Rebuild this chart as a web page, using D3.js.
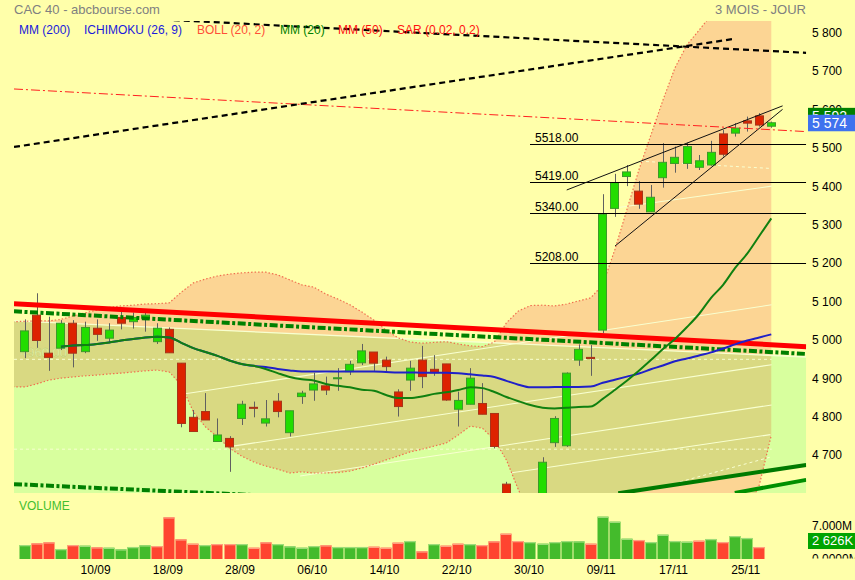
<!DOCTYPE html>
<html><head><meta charset="utf-8">
<script src="https://cdn.jsdelivr.net/npm/d3@7"></script>
<style>body{margin:0;background:#FFFFAA;} svg{display:block;font-family:"Liberation Sans",Arial,sans-serif;}</style>
</head><body><svg id="c" width="855" height="580"></svg>
<script>
// ---------------- DATA ----------------
const dates = ["02/09","03/09","04/09","07/09","08/09","09/09","10/09","11/09","14/09","15/09","16/09","17/09","18/09","21/09","22/09","23/09","24/09","25/09","28/09","29/09","30/09",
"01/10","02/10","05/10","06/10","07/10","08/10","09/10","12/10","13/10","14/10","15/10","16/10","19/10","20/10","21/10","22/10","23/10","26/10","27/10","28/10","29/10","30/10",
"02/11","03/11","04/11","05/11","06/11","09/11","10/11","11/11","12/11","13/11","16/11","17/11","18/11","19/11","20/11","23/11","24/11","25/11","26/11","27/11"];
const open  = [4978,5073,4974,4987,5052,4978,5039,5013,5067,5056,5065,5004,5036,4948,4807,4822,4744,4752,4804,4833,4792,4849,4767,4861,4878,4889,4908,4926,4949,4977,4956,4873,4904,4956,4932,4946,4828,4841,4843,4817,4633,4575,4560,4601,4741,4733,4956,4963,5034,5351,5434,5396,5342,5431,5468,5468,5458,5464,5545,5547,5579,5592,5565];
const high  = [5062,5130,5069,5060,5060,5056,5062,5052,5082,5080,5079,5052,5041,4948,4826,4870,4804,4758,4850,4848,4852,4870,4824,4876,4923,4913,4935,4954,4998,4977,4965,4880,4954,4993,4969,4946,4874,4935,4896,4818,4639,4600,4600,4703,4810,4924,4997,4995,5388,5441,5464,5422,5412,5521,5512,5522,5490,5527,5555,5573,5590,5599,5577];
const low   = [4961,4988,4928,4982,4937,4974,5006,5000,5036,5038,5030,4998,4975,4781,4769,4800,4743,4665,4787,4807,4783,4807,4757,4842,4850,4865,4876,4917,4943,4928,4926,4809,4876,4883,4915,4850,4783,4841,4815,4726,4562,4555,4518,4580,4730,4730,4941,4915,5026,5329,5409,5350,5342,5405,5444,5454,5451,5462,5486,5538,5551,5564,5561];
const close = [5032,5007,4963,5052,4974,5041,5023,5034,5052,5067,5073,5039,4975,4791,4770,4800,4761,4730,4841,4832,4803,4822,4824,4870,4894,4878,4910,4945,4980,4948,4939,4835,4935,4913,4923,4852,4851,4909,4815,4731,4571,4569,4594,4690,4804,4922,4984,4960,5336,5418,5446,5362,5380,5471,5484,5512,5475,5497,5492,5560,5573,5568,5574];
const volume = [3.06,3.43,3.65,2.19,3.06,2.91,2.56,2.47,2.12,2.63,3.00,2.84,9.12,4.31,3.35,3.06,3.28,3.28,3.28,2.47,3.65,3.28,2.78,2.47,2.84,3.00,2.63,2.63,2.63,2.69,2.47,3.57,3.94,1.68,3.28,2.91,3.35,3.28,3.06,3.87,5.54,3.94,3.72,3.35,3.72,3.94,3.87,3.35,9.26,8.16,4.44,4.16,3.72,5.32,3.94,3.79,4.00,4.38,3.72,5.03,4.60,2.626];
const lineStart = 3; // first index of the moving-average lines
const mm20 = [4991,4994,4995,4998,5002,5007,5011,5015,5017,5015,5001,4987,4977,4967,4955,4946,4941,4933,4922,4912,4906,4903,4894,4889,4885,4879,4876,4865,4857,4857,4861,4868,4872,4878,4885,4883,4873,4860,4849,4839,4832,4830,4832,4834,4835,4855,4878,4902,4928,4956,4985,5011,5042,5076,5118,5152,5196,5233,5279,5325];
const mmBlue = [4991,4994,4995,4998,5002,5007,5011,5015,5017,5015,5001,4987,4977,4967,4955,4946,4941,4938,4933,4929,4926,4926,4926,4926,4926,4926,4926,4925,4924,4924,4923,4923,4923,4922,4919,4916,4912,4902,4892,4885,4885,4886,4886,4886,4887,4897,4905,4913,4921,4932,4942,4953,4960,4968,4976,4986,4997,5007,5015,5023];
const bbStart = -1;
const bbUpper = [5056,5057,5058,5058,5062,5071,5079,5086,5093,5097,5099,5102,5103,5105,5133,5157,5167,5175,5180,5183,5185,5185,5178,5165,5152,5146,5128,5115,5100,5081,5060,5034,5014,5003,5000,5002,5004,4998,4993,4991,5003,5053,5084,5098,5099,5097,5102,5110,5118,5152,5243,5347,5451,5542,5633,5717,5777,5815,5854,5873,5886,5894,5899,5902];
const bbLower = [4886,4886,4894,4904,4909,4912,4915,4917,4920,4922,4925,4928,4930,4925,4891,4821,4782,4756,4727,4706,4691,4680,4672,4662,4665,4662,4662,4663,4667,4675,4685,4696,4706,4717,4724,4732,4740,4761,4784,4779,4748,4696,4618,4553,4514,4488,4475,4462,4449,4436,4430,4425,4428,4440,4455,4470,4490,4505,4520,4535,4550,4565,4630,4760];
// drawn lines: [index, price] end points
const blackRise   = [[-0.9,5511],[58.82,5792]];
const blackFall   = [[-0.9,5863],[64.9,5756]];
const redDashDot  = [[-0.9,5662],[64.9,5551]];
const redThick    = [[-0.9,5103],[64.9,4991]];
const greenDashDot= [[-0.9,5083],[64.9,4972]];
const greenDashLow= [[-0.9,4633],[64.9,4539]];
const zoneTop     = [[-0.9,5058],[64.9,4964]];
const greenLineA  = [[49.29,4609],[64.9,4683]];
const greenLineB  = [[58.97,4610],[64.9,4644]];
const levels = [5518,5419,5340,5208];
const levelFrom = 41.96;
const wedgeUp  = [[45.01,5399],[62.94,5618]];
const wedgeLow = [[49.02,5253],[62.94,5609]];
const paleLines = [[[49.02,5352],[62.03,5409]],[[12.64,4865],[62.03,5100]],[[17.29,4732],[62.03,4944]],[[22.86,4654],[62.03,4839]],[[40.30,4662],[61.93,4762]]];
const paleDashed = [[[51.1,5474],[62.0,5455]],[[54.42,4639],[62.0,4704]]];
const paleLevels = [4958,4724];
const paleLabel = "4960.00";
const priceTicks = [4700,4800,4900,5000,5100,5200,5300,5400,5500,5600,5700,5800];
const dateTicks = ["10/09","18/09","28/09","06/10","14/10","22/10","30/10","09/11","17/11","25/11"];
const prevBox = 5592, lastPrice = 5574;
const volTicks = ["7.000M","0.0000M"], lastVolLabel = "2 626K";
const legend = [["MM (200)","#1a1adc"],["ICHIMOKU (26, 9)","#1a1adc"],["BOLL (20, 2)","#ff5038"],["MM (20)","#008000"],["MM (50)","#ff1010"],["SAR (0.02, 0.2)","#ff1010"]];
const legendX = [19,84,197,280,338,397];

// ---------------- CHART ----------------
const svg = d3.select("#c");
svg.append("rect").attr("width",855).attr("height",580).attr("fill","#FFFFAA");
const x = d3.scaleLinear().domain([-0.9,64.9]).range([14,806.2]);
const y = d3.scaleLinear().domain([4609.9,5839]).range([493,21]);
const yv = d3.scaleLinear().domain([0,7]).range([559,527]);
const fr = d3.formatLocale({decimal:",",thousands:" ",grouping:[3],currency:["","€"]}).format(",d");
const seg = d3.line().x(d=>x(d[0])).y(d=>y(d[1]));
const defs = svg.append("defs");
defs.append("clipPath").attr("id","plot").append("rect").attr("x",14).attr("y",21).attr("width",792.2).attr("height",472);

// title & legend
svg.append("text").attr("x",14).attr("y",13.5).attr("font-size",13).attr("fill","#808080").text("CAC 40 - abcbourse.com");
svg.append("text").attr("x",806).attr("y",13.5).attr("font-size",13).attr("fill","#808080").attr("text-anchor","end").text("3 MOIS - JOUR");

const P = svg.append("g").attr("clip-path","url(#plot)");

// zones
const bb = bbUpper.map((u,k)=>({i:k+bbStart,up:u,lo:bbLower[k]}));
const bbArea = d3.area().x(d=>x(d.i)).y0(d=>y(d.lo)).y1(d=>y(d.up));
P.append("path").attr("d",bbArea(bb)).attr("fill","#FCD594");
const bottomP = 4500;
const zoneA = [zoneTop[0],zoneTop[1],[zoneTop[1][0],bottomP],[zoneTop[0][0],bottomP]];
const zoneB = [[greenLineA[0][0],bottomP],greenLineA[0],greenLineA[1],greenLineB[1],greenLineB[0],[greenLineB[0][0],bottomP]];
const zoneD = seg(zoneA)+"Z"+seg(zoneB)+"Z";
P.append("path").attr("d",zoneD).attr("fill","#D8FF9E").attr("fill-rule","evenodd");
defs.append("clipPath").attr("id","zone").append("path").attr("d",zoneD).attr("clip-rule","evenodd");
P.append("g").attr("clip-path","url(#zone)").append("path").attr("d",bbArea(bb)).attr("fill","#D9D982");

// legend (under lines)
legend.forEach((l,k)=>svg.append("text").attr("x",legendX[k]).attr("y",33.5).attr("font-size",12).attr("fill",l[1]).text(l[0]));

// pale lines
const paleC = "#F8FFD0";
paleLines.forEach(l=>P.append("path").attr("d",seg(l)).attr("stroke",paleC).attr("stroke-width",1.1).attr("fill","none"));
P.append("path").attr("d",seg(zoneTop)).attr("stroke",paleC).attr("stroke-width",1.3).attr("fill","none");
paleDashed.forEach(l=>P.append("path").attr("d",seg(l)).attr("stroke",paleC).attr("stroke-width",1).attr("stroke-dasharray","3,3").attr("fill","none"));
paleLevels.forEach(v=>P.append("path").attr("d",seg([[-0.9,v],[62.03,v]])).attr("stroke",paleC).attr("stroke-width",1).attr("stroke-dasharray","3,3").attr("fill","none"));
P.append("text").attr("x",20).attr("y",y(paleLevels[0])-2).attr("font-size",13).attr("fill","#ECFFB4").attr("stroke","#B9C46A").attr("stroke-width",0.35).text(paleLabel);

// bollinger borders
const bbLineU = d3.line().x(d=>x(d.i)).y(d=>y(d.up));
const bbLineL = d3.line().x(d=>x(d.i)).y(d=>y(d.lo));
[bbLineU,bbLineL].forEach(f=>P.append("path").attr("d",f(bb)).attr("fill","none").attr("stroke","#F07050").attr("stroke-width",1.2).attr("stroke-dasharray","1.5,2"));

// candles
const G = P.append("g");
dates.forEach((dt,i)=>{
  const up = close[i]>=open[i];
  const cx = Math.round(x(i))+0.5;
  G.append("line").attr("x1",cx).attr("x2",cx).attr("y1",y(high[i])).attr("y2",y(low[i])).attr("stroke","#606060").attr("stroke-width",1);
  const top = y(Math.max(open[i],close[i])), bot = y(Math.min(open[i],close[i]));
  G.append("rect").attr("x",Math.round(x(i)-4.5)+0.5).attr("y",top).attr("width",8).attr("height",Math.max(1,bot-top))
   .attr("fill",up?"#22DD00":"#DD2200").attr("stroke",up?"#3D9A2A":"#A83418").attr("stroke-width",1);
});

// trend lines
P.append("path").attr("d",seg(greenLineA)).attr("stroke","#007A00").attr("stroke-width",4).attr("fill","none");
P.append("path").attr("d",seg(greenLineB)).attr("stroke","#009000").attr("stroke-width",4).attr("fill","none");
P.append("path").attr("d",seg(greenDashLow)).attr("stroke","#008000").attr("stroke-width",4).attr("stroke-dasharray","8,2.5,3,2.5").attr("fill","none");
P.append("path").attr("d",seg(redThick)).attr("stroke","#FF0000").attr("stroke-width",5).attr("fill","none");
P.append("path").attr("d",seg(greenDashDot)).attr("stroke","#008000").attr("stroke-width",4).attr("stroke-dasharray","8,2.5,3,2.5").attr("fill","none");

// moving averages
const maLine = d3.line().x((d,k)=>x(k+lineStart)).y(d=>y(d)).curve(d3.curveMonotoneX);
P.append("path").attr("d",maLine(mmBlue)).attr("stroke","#2020C8").attr("stroke-width",2).attr("fill","none");
P.append("path").attr("d",maLine(mm20)).attr("stroke","#108010").attr("stroke-width",2).attr("fill","none");

// horizontal levels
levels.forEach(v=>{
  P.append("line").attr("x1",x(levelFrom)).attr("x2",x(64.9)).attr("y1",Math.round(y(v))+0.5).attr("y2",Math.round(y(v))+0.5).attr("stroke","#000").attr("stroke-width",1);
  P.append("text").attr("x",x(levelFrom)+5).attr("y",Math.round(y(v))-2).attr("font-size",12).attr("fill","#000").text(v.toFixed(2));
});
[wedgeUp,wedgeLow].forEach(l=>P.append("path").attr("d",seg(l)).attr("stroke","#111").attr("stroke-width",1).attr("fill","none"));
P.append("path").attr("d",seg(redDashDot)).attr("stroke","#FF2020").attr("stroke-width",1).attr("stroke-dasharray","9,3,2,3").attr("fill","none");
P.append("path").attr("d",seg(blackRise)).attr("stroke","#000").attr("stroke-width",2.2).attr("stroke-dasharray","6,4").attr("fill","none");
P.append("path").attr("d",seg(blackFall)).attr("stroke","#000").attr("stroke-width",2.2).attr("stroke-dasharray","6,4").attr("fill","none");

// right price axis
priceTicks.forEach(v=>svg.append("text").attr("x",812).attr("y",y(v)+1).attr("font-size",12).attr("fill","#000").text(fr(v)));
[[prevBox,"#008000"],[lastPrice,"#3F72EE"]].forEach(b=>{
  const cy=y(b[0]);
  svg.append("rect").attr("x",808).attr("y",cy-8).attr("width",47).attr("height",16.5).attr("fill",b[1]);
  svg.append("text").attr("x",812).attr("y",cy+5.5).attr("font-size",14).attr("fill","#fff").text(fr(b[0]));
});

// volume
svg.append("text").attr("x",19).attr("y",510).attr("font-size",12).attr("fill","#44BE2E").text("VOLUME");
volume.forEach((v,i)=>{
  const upv = i===0 ? close[0]>=open[0] : close[i]>=close[i-1];
  const x0 = Math.round(x(i)-6)+0.5, w=11;
  svg.append("rect").attr("x",x0).attr("y",yv(v)).attr("width",w).attr("height",yv(0)-yv(v)).attr("fill",upv?"#44BB2C":"#FF4430");
  svg.append("rect").attr("x",x0).attr("y",yv(v)).attr("width",w).attr("height",1.3).attr("fill",upv?"#9EDC7A":"#FFA080");
});
defs.append("clipPath").attr("id","vclip").append("rect").attr("x",800).attr("y",500).attr("width",55).attr("height",58.5);
const VG = svg.append("g").attr("clip-path","url(#vclip)");
VG.append("text").attr("x",812).attr("y",529.5).attr("font-size",12).attr("fill","#000").text(volTicks[0]);
VG.append("text").attr("x",812).attr("y",563).attr("font-size",12).attr("fill","#000").text(volTicks[1]);
const lv = volume[volume.length-1];
VG.append("rect").attr("x",808).attr("y",yv(lv)-14).attr("width",47).attr("height",16).attr("fill","#00A400");
VG.append("text").attr("x",812).attr("y",yv(lv)-1.5).attr("font-size",13).attr("fill","#fff").text(lastVolLabel);

// date axis
dateTicks.forEach(t=>{
  const i = dates.indexOf(t);
  svg.append("text").attr("x",x(i)-1.5).attr("y",574).attr("font-size",12).attr("text-anchor","middle").attr("fill","#000").text(t);
});
</script></body></html>
